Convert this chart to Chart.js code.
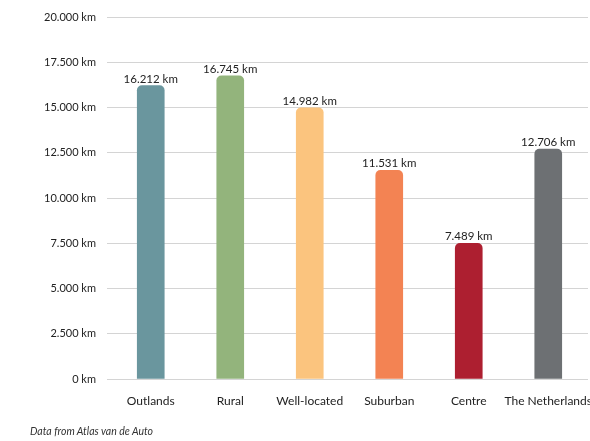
<!DOCTYPE html>
<html>
<head>
<meta charset="utf-8">
<script src="https://cdn.jsdelivr.net/npm/chart.js@4/dist/chart.umd.min.js"></script>
<style>
    html, body { margin: 0; padding: 0; background: #fff; overflow: hidden; }
    #wrap { position: absolute; left: 0; top: 0; width: 596px; height: 441px; }
    #note { position: absolute; left: 30px; top: 425px; font: italic 10.5px Lato, sans-serif; color: #333; }
</style>
</head>
<body>
<div id="wrap"><canvas id="chart" width="596" height="441"></canvas></div>
<div id="note">Data from Atlas van de Auto</div>
<script>
const categories = ['Outlands', 'Rural', 'Well-located', 'Suburban', 'Centre', 'The Netherlands'];
const distances = [16212, 16745, 14982, 11531, 7489, 12706];
const bar_colors = ['#6a969e', '#93b47c', '#fbc47e', '#f38353', '#ad1f30', '#6d7073'];

function fmt(v) {
    return String(v).replace(/\B(?=(\d{3})+(?!\d))/g, '.') + ' km';
}

const value_labels = {
    id: 'value_labels',
    afterDatasetsDraw(chart) {
        const ctx = chart.ctx;
        const meta = chart.getDatasetMeta(0);
        ctx.save();
        ctx.font = '11.5px Lato, sans-serif';
        ctx.fillStyle = '#222';
        ctx.textAlign = 'center';
        ctx.textBaseline = 'bottom';
        meta.data.forEach((bar, i) => {
            ctx.fillText(fmt(distances[i]), bar.x, bar.y - 1);
        });
        ctx.restore();
    }
};

const chart_config = {
    type: 'bar',
    data: {
        labels: categories,
        datasets: [{
            data: distances,
            backgroundColor: bar_colors,
            barThickness: 27,
            borderRadius: { topLeft: 5, topRight: 5 },
            borderSkipped: 'bottom'
        }]
    },
    plugins: [value_labels],
    options: {
        responsive: false,
        animation: false,
        layout: { padding: { top: 17, right: 8, left: 0, bottom: 0 } },
        scales: {
            x: {
                grid: { display: false, drawTicks: false },
                border: { display: false },
                ticks: {
                    color: '#222',
                    font: { family: 'Lato', size: 12 },
                    padding: 15,
                    maxRotation: 0,
                    autoSkip: false
                },
                afterFit: (s) => { s.height = 62; s.paddingLeft = 0; s.paddingRight = 0; }
            },
            y: {
                min: 0,
                max: 20000,
                grid: { color: '#d4d4d4', tickLength: 4, lineWidth: 1 },
                border: { display: false },
                ticks: {
                    stepSize: 2500,
                    color: '#222',
                    font: { family: 'Lato', size: 11 },
                    padding: 11,
                    callback: (v) => fmt(v)
                },
                afterFit: (s) => { s.width = 111; s.paddingTop = 0; s.paddingBottom = 0; }
            }
        },
        plugins: {
            legend: { display: false },
            tooltip: { enabled: false }
        }
    }
};

var chart = new Chart(
    document.getElementById('chart'),
    chart_config
);
</script>
</body>
</html>
